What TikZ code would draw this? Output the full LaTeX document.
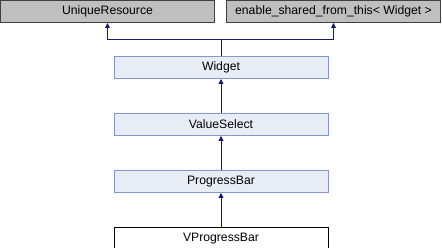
\documentclass[tikz,border=0pt]{standalone}
\usepackage{fontspec}
\setmainfont{Liberation Sans}
\usetikzlibrary{arrows.meta, positioning}
\definecolor{extgray}{HTML}{BFBFBF}
\definecolor{extborder}{HTML}{404040}
\definecolor{clsfill}{HTML}{E8ECF5}
\definecolor{clsborder}{HTML}{8497CB}
\definecolor{edgeblue}{HTML}{191970}

\begin{document}
\begin{tikzpicture}[
    x=1pt, y=1pt,
    cls/.style={rectangle, draw=clsborder, fill=clsfill, line width=1pt, minimum width=214pt, minimum height=22pt, inner sep=0pt, font=\fontsize{12.2}{14}\selectfont},
    ext/.style={cls, draw=extborder, fill=extgray},
    self/.style={cls, draw=black, fill=white},
    inherit/.style={{Triangle[length=5pt,width=5pt]}-, line width=1pt, edgeblue},
    node distance=34pt
]
    \useasboundingbox (0,0) rectangle (442,-248);
    \node[ext] (unique) at (107.5,-11.5) {UniqueResource};
    \node[ext] (shared) at (333.5,-11.5) {enable\_shared\_from\_this< Widget >};
    \node[cls] (widget) at (221,-67.5) {Widget};
    \node[cls, below=of widget] (valuesel) {ValueSelect};
    \node[cls, below=of valuesel] (progress) {ProgressBar};
    \node[self, below=of progress] (vprogress) {VProgressBar};
    \coordinate (joint) at (221,-40);

    \draw[inherit] (unique.south) |- (joint) -- (widget.north);
    \draw[inherit] (shared.south) |- (joint);
    \draw[inherit] (widget) -- (valuesel);
    \draw[inherit] (valuesel) -- (progress);
    \draw[inherit] (progress) -- (vprogress);
\end{tikzpicture}
\end{document}
